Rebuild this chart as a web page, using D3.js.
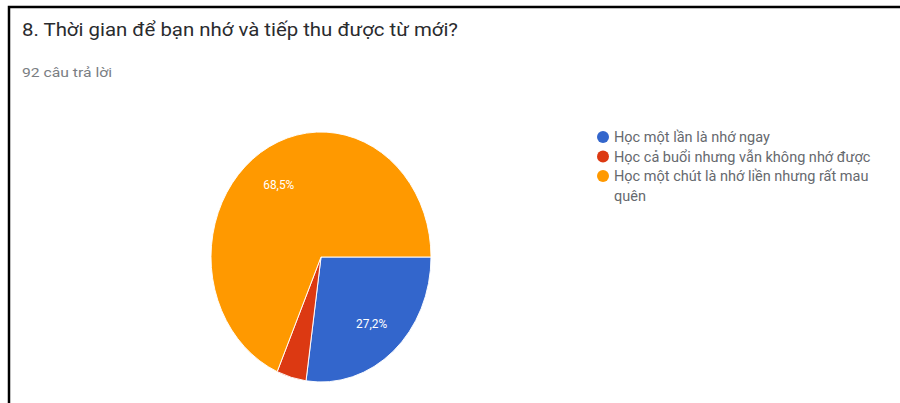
<!DOCTYPE html>
<html>
<head>
<meta charset="utf-8">
<script src="https://cdn.jsdelivr.net/npm/d3@7"></script>
<style>
  body { margin: 0; background: #fff; }
  svg { display: block; font-family: Roboto, "Noto Sans", Arial, sans-serif; }
</style>
</head>
<body>
<svg id="chart" width="900" height="403"></svg>
<script>
// Survey question and answer counts
const questionTitle = "8. Thời gian để bạn nhớ và tiếp thu được từ mới?";
const responseCount = "92 câu trả lời";
const categories = [
  "Học một lần là nhớ ngay",
  "Học cả buổi nhưng vẫn không nhớ được",
  "Học một chút là nhớ liền nhưng rất mau quên"
];
const responses = [25, 4, 63];
const sliceColors = ["#3366cc", "#dc3912", "#ff9900"];

const svg = d3.select("#chart");
const W = 900, H = 403;
const sx = 0.88; // horizontal compression of the pie

// card frame (top and left edges)
svg.append("path")
  .attr("d", `M9,${H} L9,7 L${W},7`)
  .attr("fill", "none")
  .attr("stroke", "#000")
  .attr("stroke-width", 2.5);

// fit a text node to a target pixel width
function fit(sel, width) {
  sel.attr("textLength", width).attr("lengthAdjust", "spacingAndGlyphs");
}

svg.append("text")
  .attr("x", 22).attr("y", 36)
  .attr("font-size", 17.5)
  .attr("fill", "#2a2b2e")
  .text(questionTitle)
  .call(fit, 436);

svg.append("text")
  .attr("x", 22).attr("y", 77)
  .attr("font-size", 12)
  .attr("fill", "#7a7e83")
  .text(responseCount)
  .call(fit, 90);

// pie
const total = d3.sum(responses);
const cx = 321, cy = 257, R = 125;
const pie = d3.pie().sort(null)
  .startAngle(Math.PI / 2)
  .endAngle(Math.PI / 2 + 2 * Math.PI);
const arcs = pie(responses);
const arc = d3.arc().innerRadius(0).outerRadius(R);
const labelArc = d3.arc().innerRadius(R * 0.7).outerRadius(R * 0.7);

const pg = svg.append("g")
  .attr("transform", `translate(${cx},${cy}) scale(${sx},1)`);

pg.selectAll("path.slice")
  .data(arcs)
  .join("path")
  .attr("class", "slice")
  .attr("d", arc)
  .attr("fill", (d, i) => sliceColors[i])
  .attr("stroke", "#fff")
  .attr("stroke-width", 1);

const fmt = v => d3.format(".1f")(v).replace(".", ",") + "%";
pg.selectAll("text.pct")
  .data(arcs.filter(d => d.value / total > 0.05))
  .join("text")
  .attr("class", "pct")
  .attr("transform", d => `translate(${labelArc.centroid(d)})`)
  .attr("text-anchor", "middle")
  .attr("dy", "0.35em")
  .attr("font-size", 13.5)
  .attr("fill", "#fff")
  .text(d => fmt(d.value / total * 100));

// legend
const legendX = 603, legendTextX = 614, legendTop = 137, lineH = 19.5, maxW = 275;
const legendFont = 14.5;
const lg = svg.append("g");
let y = legendTop;
const addLine = (yy, s) => lg.append("text")
  .attr("x", legendTextX).attr("y", yy).attr("dy", "0.35em")
  .attr("font-size", legendFont).attr("fill", "#66696e")
  .text(s);
categories.forEach((c, i) => {
  lg.append("circle")
    .attr("cx", legendX).attr("cy", y).attr("r", 6)
    .attr("fill", sliceColors[i]);
  // word wrap within the legend column
  const words = c.split(" ");
  let line = [];
  let t = addLine(y, "");
  words.forEach(w => {
    line.push(w);
    t.text(line.join(" "));
    if (t.node().getComputedTextLength() > maxW && line.length > 1) {
      line.pop();
      t.text(line.join(" "));
      y += lineH;
      line = [w];
      t = addLine(y, w);
    }
  });
  y += lineH;
});
</script>
</body>
</html>
